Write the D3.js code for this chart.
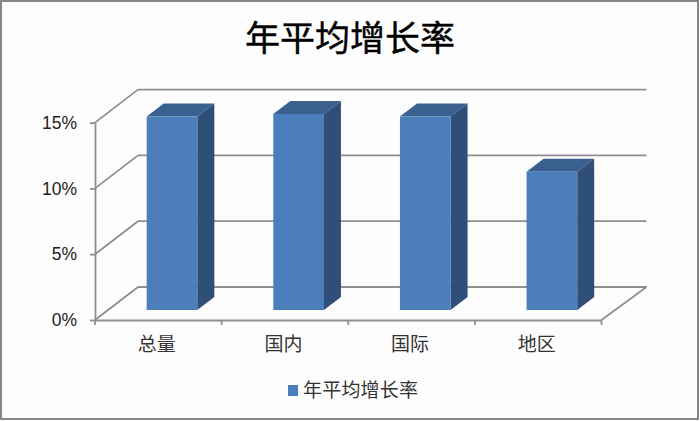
<!DOCTYPE html>
<html><head><meta charset="utf-8">
<style>html,body{margin:0;padding:0;background:#fff;overflow:hidden}svg{display:block}
text{font-family:"Noto Sans CJK SC","Noto Sans",sans-serif}</style>
<script src="https://cdn.jsdelivr.net/npm/d3@7"></script></head><body>
<script>
const categories = ["总量","国内","国际","地区"];
const growthRates = [14.7,14.9,14.7,10.5];
const yTicks = [0,5,10,15];
const seriesName = "年平均增长率";
const titleText = "年平均增长率";

const W=700,H=421;
const svg=d3.select("body").append("svg").attr("width",W).attr("height",H);
svg.append("rect").attr("x",1).attr("y",1).attr("width",W-3).attr("height",H-3)
  .attr("fill","#fdfdfd").attr("stroke","#868686").attr("stroke-width",2);

const x=d3.scaleBand().domain(categories).range([95,601.5]);
const y=d3.scaleLinear().domain([0,15]).range([320,122.6]);
const dx=43,dy=-33;
const grid="#8f8f8f";
const sw=1.8;
const g=svg.append("g");

// back wall gridlines and floor/side diagonals
yTicks.forEach(t=>{
  g.append("line").attr("x1",x.range()[0]).attr("y1",y(t)).attr("x2",x.range()[0]+dx).attr("y2",y(t)+dy)
    .attr("stroke",grid).attr("stroke-width",sw);
  g.append("line").attr("x1",x.range()[0]+dx).attr("y1",y(t)+dy).attr("x2",x.range()[1]+dx+2).attr("y2",y(t)+dy)
    .attr("stroke",grid).attr("stroke-width",sw);
});
g.append("line").attr("x1",x.range()[1]).attr("y1",y(0)).attr("x2",x.range()[1]+dx+2).attr("y2",y(0)+dy)
  .attr("stroke",grid).attr("stroke-width",sw);

// bars
const offX=13.7,offY=-10,sideX=17,sideY=-13;
const barW=x.bandwidth()*0.4;
const bars=g.selectAll("g.bar").data(categories.map((c,i)=>({c,v:growthRates[i]}))).join("g").attr("class","bar");
const barLeft=d=>x(d.c)+x.bandwidth()/2-barW/2+offX;
const barTop=d=>y(d.v)+offY, barBot=()=>y(0)+offY;
const poly=f=>d=>f(d).map(p=>p.join(",")).join(" ");
bars.append("polygon").attr("fill","#3a6090").attr("points",poly(d=>[
  [barLeft(d),barTop(d)],[barLeft(d)+sideX,barTop(d)+sideY],[barLeft(d)+barW+sideX,barTop(d)+sideY],[barLeft(d)+barW,barTop(d)]]));
bars.append("polygon").attr("fill","#304f78").attr("points",poly(d=>[
  [barLeft(d)+barW,barTop(d)],[barLeft(d)+barW+sideX,barTop(d)+sideY],[barLeft(d)+barW+sideX,barBot()+sideY],[barLeft(d)+barW,barBot()]]));
bars.append("rect").attr("x",barLeft).attr("y",barTop).attr("width",barW).attr("height",d=>barBot()-barTop(d))
  .attr("fill","#4c7ebb");

// axes
const xAxis=d3.axisBottom(x).tickValues([]).tickSizeOuter(0);
const ax=svg.append("g").attr("transform",`translate(0,${y(0)})`).call(xAxis);
ax.select(".domain").attr("stroke",grid).attr("stroke-width",sw);
const edges=[...categories.map(c=>x(c)),x.range()[1]];
ax.selectAll("line.t").data(edges).join("line").attr("class","t").attr("x1",d=>d).attr("x2",d=>d).attr("y1",0).attr("y2",5)
  .attr("stroke",grid).attr("stroke-width",sw);
ax.selectAll("text.c").data(categories).join("text").attr("class","c")
  .attr("x",d=>x(d)+x.bandwidth()/2-1.5).attr("y",31).attr("text-anchor","middle")
  .attr("font-size",19).attr("fill","#333").text(d=>d);
const yAxis=d3.axisLeft(y).tickValues(yTicks).tickFormat(d=>d+"%").tickSize(5).tickPadding(13).tickSizeOuter(0);
const ay=svg.append("g").attr("transform",`translate(${x.range()[0]},0)`).call(yAxis);
ay.select(".domain").attr("stroke",grid).attr("stroke-width",sw);
ay.selectAll(".tick line").attr("stroke",grid).attr("stroke-width",sw);
ay.selectAll("text").style("font-family","'Liberation Sans',sans-serif").attr("font-size",17.5).attr("fill","#222").attr("dy","0.32em");

// title
svg.append("text").attr("x",350).attr("y",51).attr("text-anchor","middle")
  .attr("font-size",35).attr("font-weight",400).attr("fill","#000").attr("stroke","#000").attr("stroke-width",0.4).text(titleText);

// legend
svg.append("rect").attr("x",288).attr("y",385).attr("width",10).attr("height",11).attr("fill","#4c7ebb");
svg.append("text").attr("x",303).attr("y",397).attr("font-size",19).attr("letter-spacing",0.2).attr("fill","#333").text(seriesName);
</script></body></html>
